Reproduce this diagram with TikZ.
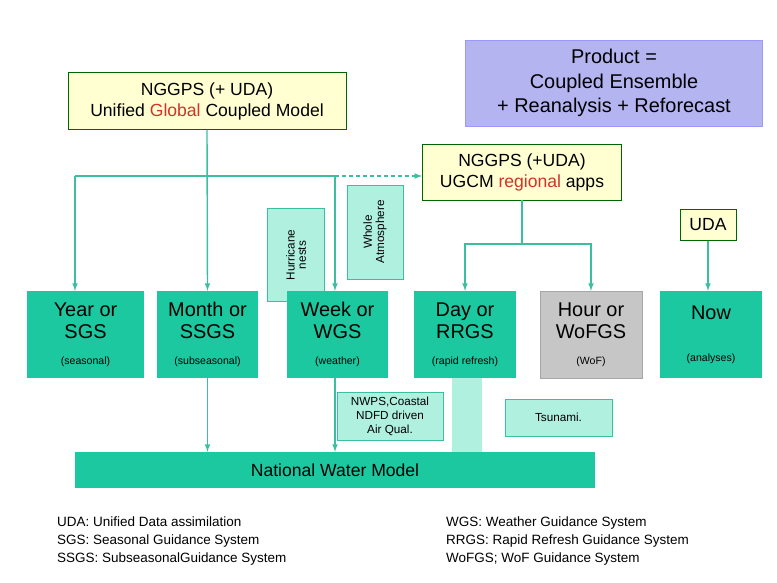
\documentclass[tikz,border=0pt]{standalone}
\usepackage{fontspec}
\setmainfont{Liberation Sans}
\usetikzlibrary{positioning}
\definecolor{teal1}{RGB}{28,200,160}
\definecolor{pale}{RGB}{176,240,222}
\definecolor{lnk}{RGB}{60,190,160}
\definecolor{cream}{RGB}{255,255,210}
\definecolor{lav}{RGB}{180,180,240}
\definecolor{redt}{RGB}{210,50,40}
\begin{document}
\begin{tikzpicture}[x=0.03cm, y=-0.03cm,
        every node/.style={font=\fontsize{12}{14}\selectfont, align=center, inner sep=0pt},
        top/.style={draw=green!40!black, thick, fill=cream, font=\fontsize{15}{18}\selectfont},
        stage/.style={fill=teal1, minimum height=87*0.03cm, font=\fontsize{17}{19}\selectfont},
        small/.style={font=\fontsize{10}{12}\selectfont},
        side/.style={draw=lnk, fill=pale, font=\fontsize{10}{12}\selectfont},
        link/.style={draw=lnk, very thick},
        arr/.style={link, -latex},
    ]
    \useasboundingbox (0,0) rectangle (777,583);

    % top boxes
    \node[top, minimum width=278*0.03cm, minimum height=57*0.03cm] (global) at (207,101)
        {NGGPS (+ UDA)\\Unified \textcolor{redt}{Global} Coupled Model};
    \node[draw=blue!40, fill=lav, minimum width=297*0.03cm, minimum height=86*0.03cm,
        font=\fontsize{17}{21}\selectfont] (product) at (614,83)
        {Product =\\Coupled Ensemble\\+ Reanalysis + Reforecast};
    \node[top, minimum width=199*0.03cm, minimum height=56*0.03cm] (regional) at (522,172)
        {NGGPS (+UDA)\\UGCM \textcolor{redt}{regional} apps};
    \node[top, minimum width=56*0.03cm, minimum height=31*0.03cm] (uda) at (708,225) {UDA};

    % side boxes behind
    \node[side, minimum width=57*0.03cm, minimum height=93*0.03cm] (hurricane) at (296,255)
        {\rotatebox{90}{\shortstack{Hurricane\\nests}}};
    \node[side, minimum width=56*0.03cm, minimum height=94*0.03cm] (whole) at (375,232)
        {\rotatebox{90}{\shortstack{Whole\\Atmosphere}}};

    % stage boxes
    \node[stage, minimum width=117*0.03cm] (year) at (85.5,334.5)
        {Year or\\SGS\\[3pt]{\small(seasonal)}};
    \node[stage, minimum width=101*0.03cm] (month) at (207.5,334.5)
        {Month or\\SSGS\\[3pt]{\small(subseasonal)}};
    \node[stage, minimum width=101*0.03cm] (week) at (337.5,334.5)
        {Week or\\WGS\\[3pt]{\small(weather)}};
    \node[stage, minimum width=102*0.03cm] (day) at (465,334.5)
        {Day or\\RRGS\\[3pt]{\small(rapid refresh)}};
    \node[stage, fill=gray!45, draw=gray!70, minimum width=102*0.03cm] (hour) at (591,334.5)
        {Hour or\\WoFGS\\[3pt]{\small(WoF)}};
    \node[stage, minimum width=102*0.03cm] (now) at (711,334.5)
        {Now\\[17pt]{\small(analyses)}};

    % lower boxes
    \node[side, minimum width=106*0.03cm, minimum height=48*0.03cm] (nwps) at (390,416)
        {NWPS,Coastal\\NDFD driven\\Air Qual.};
    \node[side, minimum width=107*0.03cm, minimum height=37*0.03cm] (tsunami) at (558.5,417.5) {Tsunami.};
    \node[fill=pale, minimum width=30*0.03cm, minimum height=74*0.03cm] (bar) at (467,415) {};
    \node[fill=teal1, minimum width=520*0.03cm, minimum height=36*0.03cm,
        font=\fontsize{15}{17}\selectfont] (nwm) at (335,470) {National Water Model};

    % connectors
    \coordinate (jl) at (75,176);
    \coordinate (jr) at (335,176);
    \coordinate (rj) at (regional.south |- 0,244);
    \draw[arr] (global.south) -- (month.north);
    \draw[link] (jl) -- (jr);
    \draw[arr] (jl) -- (jl |- year.north);
    \draw[arr] (jr) -- (jr |- week.north);
    \draw[link, dashed, -latex] (jr) -- (regional.west |- jr);
    \draw[link] (regional.south) -- (rj);
    \draw[arr] (rj) -| (day.north);
    \draw[arr] (rj) -| (hour.north);
    \draw[arr] (uda.south) -- (uda.south |- now.north);
    \draw[arr] (month.south) -- (month.south |- nwm.north);
    \draw[arr] (jr |- week.south) -- (jr |- nwm.north);

    % legend
    \node[anchor=west, align=left, font=\fontsize{11.5}{15.5}\selectfont] (legl) at (57,541)
        {UDA: Unified Data assimilation\\SGS: Seasonal Guidance System\\SSGS: SubseasonalGuidance System};
    \node[anchor=west, align=left, font=\fontsize{11.5}{15.5}\selectfont] (legr) at (446,541)
        {WGS: Weather Guidance System\\RRGS: Rapid Refresh Guidance System\\WoFGS; WoF Guidance System};
\end{tikzpicture}
\end{document}
